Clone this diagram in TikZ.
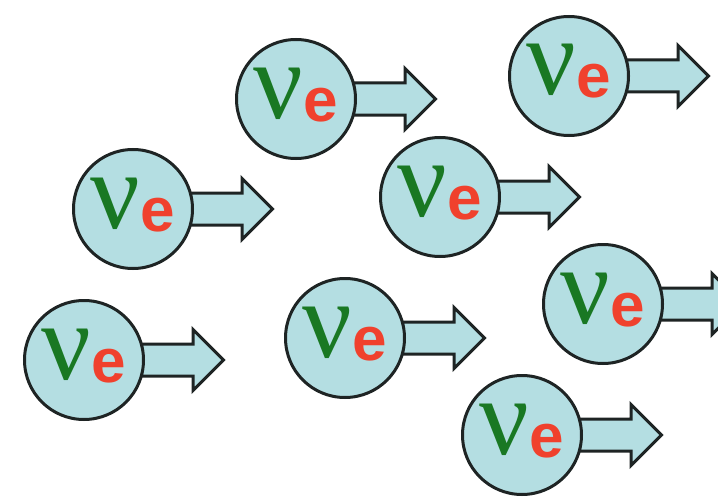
\documentclass[tikz,border=0pt]{standalone}
\usepackage{fontspec}
\usetikzlibrary{shapes.arrows,backgrounds}
\newfontfamily\nufont{Liberation Serif}
\newfontfamily\efont{Liberation Sans}
\definecolor{ballfill}{RGB}{180,222,226}
\definecolor{rimgray}{RGB}{30,36,36}
\definecolor{nugreen}{RGB}{25,120,35}
\definecolor{ered}{RGB}{240,65,45}
\newcommand{\nue}{{\color{nugreen}\nufont\fontsize{110}{110}\selectfont ν}\kern0pt\raisebox{-3pt}{\color{ered}\efont\bfseries\fontsize{62}{62}\selectfont e}}

\begin{document}
\begin{tikzpicture}[
       x=1pt, y=-1pt,
       neutrino/.style={circle, draw=rimgray, line width=3pt, fill=ballfill, minimum size=119pt, inner sep=0pt, text height=40pt, text depth=2pt},
       flow/.style={single arrow, draw=rimgray, line width=3pt, fill=ballfill, minimum height=82pt, minimum width=58pt, text height=14.5pt, text depth=14.5pt, single arrow head extend=14.5pt, inner sep=0pt, anchor=tail}
   ]
   \useasboundingbox (0,0) rectangle (718,503);
   \node[neutrino] (nu1) at (296,99) {\nue};
   \node[neutrino] (nu2) at (569,76) {\nue};
   \node[neutrino] (nu3) at (133,209) {\nue};
   \node[neutrino] (nu4) at (440,197) {\nue};
   \node[neutrino] (nu5) at (603,304) {\nue};
   \node[neutrino] (nu6) at (84,360) {\nue};
   \node[neutrino] (nu7) at (345,338) {\nue};
   \node[neutrino] (nu8) at (522,435) {\nue};

   \begin{scope}[on background layer]
   \node[flow] (go1) at ([xshift=-5pt]nu1.east) {};
   \node[flow] (go2) at ([xshift=-5pt]nu2.east) {};
   \node[flow] (go3) at ([xshift=-5pt]nu3.east) {};
   \node[flow] (go4) at ([xshift=-5pt]nu4.east) {};
   \node[flow] (go5) at ([xshift=-5pt]nu5.east) {};
   \node[flow] (go6) at ([xshift=-5pt]nu6.east) {};
   \node[flow] (go7) at ([xshift=-5pt]nu7.east) {};
   \node[flow] (go8) at ([xshift=-5pt]nu8.east) {};
   \end{scope}
\end{tikzpicture}
\end{document}
